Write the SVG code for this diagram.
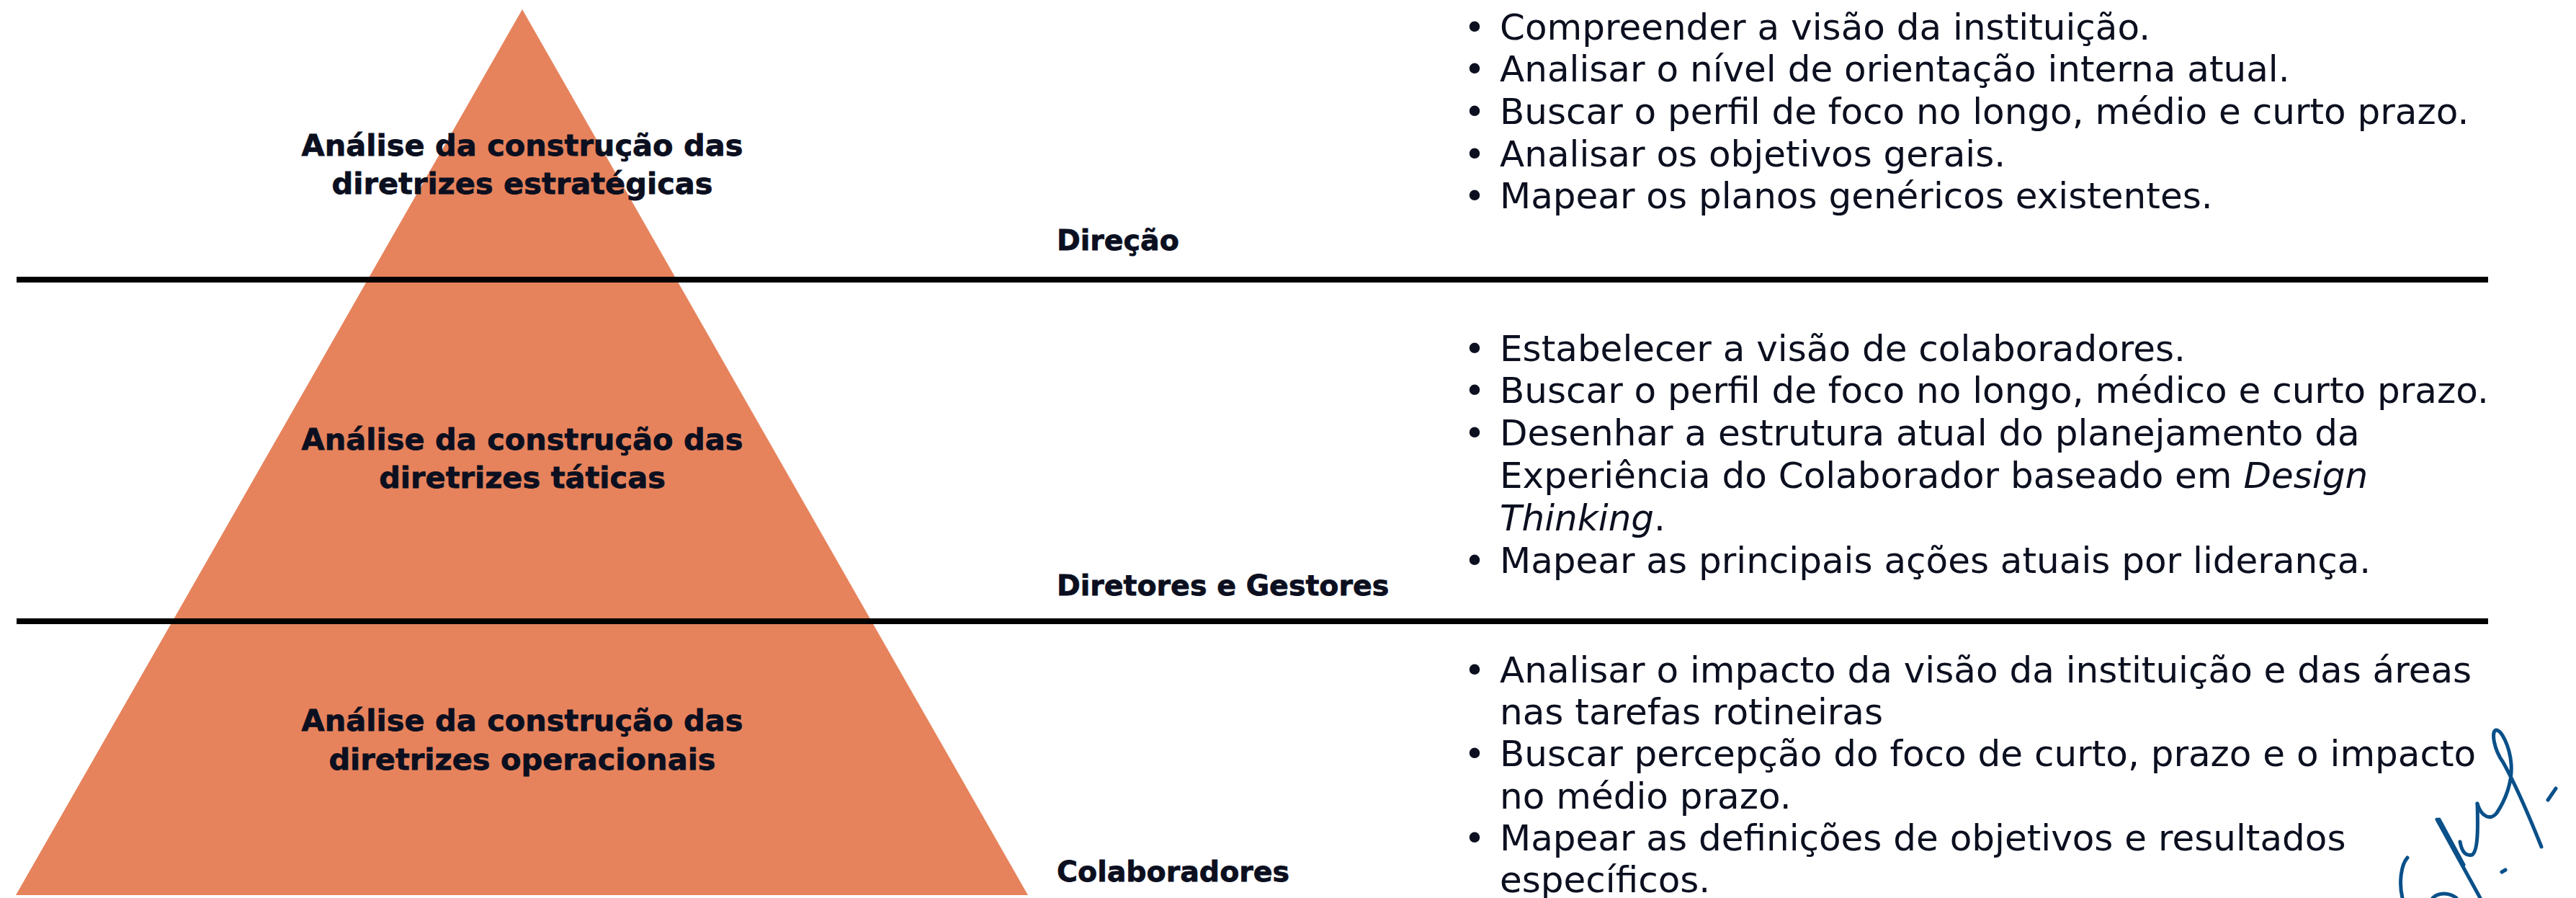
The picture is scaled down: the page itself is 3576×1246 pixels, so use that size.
<svg xmlns="http://www.w3.org/2000/svg" width="3576" height="1246" viewBox="0 0 3576 1246">
<style>
.bg{fill:#ffffff}
.pyr{fill:#E6835C}
.sep{fill:#000000}
.ptxt{font-family:"DejaVu Sans","Liberation Sans",sans-serif;font-weight:bold;font-size:41.5px;fill:#0b0f1f;stroke:#0b0f1f;stroke-width:0.8;text-anchor:middle}
.lbl{font-family:"DejaVu Sans","Liberation Sans",sans-serif;font-weight:bold;font-size:39.5px;fill:#0b0f1f;stroke:#0b0f1f;stroke-width:0.8}
.body{font-family:"DejaVu Sans","Liberation Sans",sans-serif;font-size:50px;fill:#0b0f1f}
.bul{font-family:"DejaVu Sans","Liberation Sans",sans-serif;font-size:50px;fill:#0b0f1f;text-anchor:middle}
.it{font-style:italic}
.sig{fill:none;stroke:#0A5089;stroke-width:5;stroke-linecap:round;stroke-linejoin:round}
</style>
<rect class="bg" x="0" y="0" width="3576" height="1246"/>
<g id="pyramid">
<polygon class="pyr" points="725,13 22,1242 1427,1242"/>
</g>
<g id="separators">
<rect class="sep" x="23" y="384" width="3431" height="8"/>
<rect class="sep" x="23" y="858" width="3431" height="8"/>
</g>
<g id="level-strategic">
<text class="ptxt" x="725" y="216">Análise da construção das</text>
<text class="ptxt" x="725" y="269">diretrizes estratégicas</text>
<text class="lbl" x="1467" y="347">Direção</text>
<g class="items">
<text class="bul" x="2047" y="54.5">•</text><text class="body" x="2082" y="54.5">Compreender a visão da instituição.</text>
<text class="bul" x="2047" y="113.2">•</text><text class="body" x="2082" y="113.2">Analisar o nível de orientação interna atual.</text>
<text class="bul" x="2047" y="171.9">•</text><text class="body" x="2082" y="171.9">Buscar o perfil de foco no longo, médio e curto prazo.</text>
<text class="bul" x="2047" y="230.6">•</text><text class="body" x="2082" y="230.6">Analisar os objetivos gerais.</text>
<text class="bul" x="2047" y="289.3">•</text><text class="body" x="2082" y="289.3">Mapear os planos genéricos existentes.</text>
</g>
</g>
<g id="level-tactical">
<text class="ptxt" x="725" y="624">Análise da construção das</text>
<text class="ptxt" x="725" y="677">diretrizes táticas</text>
<text class="lbl" x="1467" y="826">Diretores e Gestores</text>
<g class="items">
<text class="bul" x="2047" y="500.5">•</text><text class="body" x="2082" y="500.5">Estabelecer a visão de colaboradores.</text>
<text class="bul" x="2047" y="559.3">•</text><text class="body" x="2082" y="559.3">Buscar o perfil de foco no longo, médico e curto prazo.</text>
<text class="bul" x="2047" y="618.1">•</text><text class="body" x="2082" y="618.1">Desenhar a estrutura atual do planejamento da</text>
<text class="body" x="2082" y="676.9">Experiência do Colaborador baseado em <tspan class="it">Design</tspan></text>
<text class="body" x="2082" y="735.7"><tspan class="it">Thinking</tspan>.</text>
<text class="bul" x="2047" y="794.5">•</text><text class="body" x="2082" y="794.5">Mapear as principais ações atuais por liderança.</text>
</g>
</g>
<g id="level-operational">
<text class="ptxt" x="725" y="1014">Análise da construção das</text>
<text class="ptxt" x="725" y="1068">diretrizes operacionais</text>
<text class="lbl" x="1467" y="1223">Colaboradores</text>
<g class="items">
<text class="bul" x="2047" y="947.3">•</text><text class="body" x="2082" y="947.3">Analisar o impacto da visão da instituição e das áreas</text>
<text class="body" x="2082" y="1005">nas tarefas rotineiras</text>
<text class="bul" x="2047" y="1063.3">•</text><text class="body" x="2082" y="1063.3">Buscar percepção do foco de curto, prazo e o impacto</text>
<text class="body" x="2082" y="1121.7">no médio prazo.</text>
<text class="bul" x="2047" y="1180">•</text><text class="body" x="2082" y="1180">Mapear as definições de objetivos e resultados</text>
<text class="body" x="2082" y="1238.3">específicos.</text>
</g>
</g>
<g id="signature">
<path class="sig" d="M3439,1115 C3445,1135 3458,1138 3466,1128 C3478,1110 3488,1085 3486,1060 C3484,1035 3472,1012 3465,1013 C3458,1015 3462,1040 3475,1058 C3490,1085 3510,1130 3528,1175"/>
<path class="sig" d="M3383,1137 L3443,1246"/>
<path class="sig" d="M3386,1137 L3420,1200"/>
<path class="sig" d="M3415,1168 C3418,1185 3425,1188 3432,1186 C3440,1180 3440,1150 3439,1115"/>
<path class="sig" d="M3342,1190 C3333,1200 3330,1225 3335,1246"/>
<path class="sig" d="M3377,1246 C3385,1238 3400,1238 3410,1246"/>
<path class="sig" d="M3537,1110 L3548,1094"/>
<path class="sig" d="M3473,1210 L3478,1207"/>
</g>
</svg>
